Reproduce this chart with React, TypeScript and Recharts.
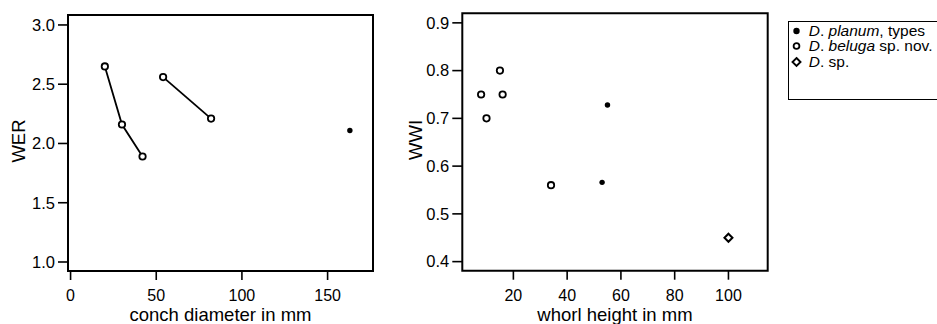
import React from 'react';
import {
  Legend,
  ReferenceArea,
  Scatter,
  ScatterChart,
  XAxis,
  YAxis,
} from 'recharts';

// left panel: WER vs conch diameter
const werBelugaA = [
  { x: 20, y: 2.65 },
  { x: 30, y: 2.16 },
  { x: 42, y: 1.89 },
];
const werBelugaB = [
  { x: 54, y: 2.56 },
  { x: 82, y: 2.21 },
];
const werPlanum = [{ x: 163, y: 2.11 }];
const werXTicks = [0, 50, 100, 150];
const werYTicks = [1.0, 1.5, 2.0, 2.5, 3.0];

// right panel: WWI vs whorl height
const wwiBeluga = [
  { x: 8, y: 0.75 },
  { x: 10, y: 0.7 },
  { x: 15, y: 0.8 },
  { x: 16, y: 0.75 },
  { x: 34, y: 0.56 },
];
const wwiPlanum = [
  { x: 55, y: 0.728 },
  { x: 53, y: 0.566 },
];
const wwiSp = [{ x: 100, y: 0.45 }];
const wwiXTicks = [20, 40, 60, 80, 100];
const wwiYTicks = [0.4, 0.5, 0.6, 0.7, 0.8, 0.9];

const legendItems = [
  { genus: 'D', species: 'planum', suffix: ', types', mark: 'filled' },
  { genus: 'D', species: 'beluga', suffix: ' sp. nov.', mark: 'open' },
  { genus: 'D', species: '', suffix: ' sp.', mark: 'diamond' },
];

const FONT = '"Liberation Sans", Arial, Helvetica, sans-serif';
const tickStyle = { fill: '#000', fontSize: 16.5, fontFamily: FONT };
const xTickStyle = { fill: '#000', fontSize: 16, fontFamily: FONT };
const tickLineStyle = { stroke: '#000', strokeWidth: 1.6 };

const OpenDot = (p: any) => (
  <circle cx={p.cx} cy={p.cy} r={3.2} fill="#fff" stroke="#000" strokeWidth={1.8} />
);
const FilledDot = (p: any) => <circle cx={p.cx} cy={p.cy} r={2.7} fill="#000" />;
const Diamond = (p: any) => {
  const s = 4;
  return (
    <polygon
      points={`${p.cx},${p.cy - s} ${p.cx + s},${p.cy} ${p.cx},${p.cy + s} ${p.cx - s},${p.cy}`}
      fill="#fff"
      stroke="#000"
      strokeWidth={2}
    />
  );
};

const yTitle = (text: string, x: number) => (props: any) => {
  const vb = props.viewBox || {};
  const cy = (vb.y ?? 0) + (vb.height ?? 0) / 2 - 2;
  return (
    <text
      x={x}
      y={cy}
      transform={`rotate(-90, ${x}, ${cy})`}
      textAnchor="middle"
      fill="#000"
      fontSize={18.5}
      fontFamily={FONT}
    >
      {text}
    </text>
  );
};

const legendMark = (mark: string) => {
  if (mark === 'filled') return <circle cx={5.5} cy={6} r={3.2} fill="#000" />;
  if (mark === 'open')
    return <circle cx={5.5} cy={6} r={2.9} fill="#fff" stroke="#000" strokeWidth={1.8} />;
  return (
    <polygon points="5.5,2 9.5,6 5.5,10 1.5,6" fill="#fff" stroke="#000" strokeWidth={1.9} />
  );
};

const renderLegend = () => (
  <div
    style={{
      border: '1.5px solid #000',
      boxSizing: 'border-box',
      height: 78.5,
      width: 170,
      paddingTop: 1,
      paddingLeft: 2,
      background: '#fff',
      fontFamily: FONT,
      fontSize: 15.5,
      color: '#000',
      textAlign: 'left',
    }}
  >
    {legendItems.map((it) => (
      <div key={it.species + it.suffix} style={{ display: 'flex', alignItems: 'center', height: 15.6, whiteSpace: 'nowrap' }}>
        <svg width={11} height={12} style={{ marginRight: 7, flex: 'none' }}>
          {legendMark(it.mark)}
        </svg>
        <span>
          <i>{it.genus}</i>.{it.species ? ' ' : ''}
          {it.species && <i>{it.species}</i>}
          {it.suffix}
        </span>
      </div>
    ))}
  </div>
);

export default function App() {
  return (
    <div
      style={{
        position: 'absolute',
        left: 0,
        top: 0,
        width: 937,
        height: 324,
        overflow: 'hidden',
        background: '#fff',
        fontFamily: FONT,
      }}
    >
      <div style={{ position: 'absolute', left: 0, top: 0 }}>
        <ScatterChart width={400} height={324} margin={{ top: 15, right: 27, bottom: 0, left: 0 }}>
          <XAxis
            type="number"
            dataKey="x"
            domain={[-1.5, 176.5]}
            allowDataOverflow
            ticks={werXTicks}
            height={53}
            axisLine={false}
            tickLine={tickLineStyle}
            tickSize={9}
            tickMargin={10}
            tick={xTickStyle}
            label={{ value: 'conch diameter in mm', position: 'insideBottom', offset: 3, fill: '#000', fontSize: 18.5, fontFamily: FONT }}
          />
          <YAxis
            type="number"
            dataKey="y"
            domain={[0.924, 3.084]}
            allowDataOverflow
            ticks={werYTicks}
            width={68}
            axisLine={false}
            tickLine={tickLineStyle}
            tickSize={10}
            tickMargin={3}
            tick={tickStyle}
            tickFormatter={(v: number) => v.toFixed(1)}
            label={{ content: yTitle('WER', 25) }}
          />
          <ReferenceArea
            x1={-1.5}
            x2={176.5}
            y1={0.924}
            y2={3.084}
            fill="none"
            stroke="#000"
            strokeWidth={2}
            ifOverflow="visible"
          />
          <Scatter
            name="beluga-a"
            data={werBelugaA}
            line={{ stroke: '#000', strokeWidth: 1.8 }}
            shape={OpenDot}
            isAnimationActive={false}
          />
          <Scatter
            name="beluga-b"
            data={werBelugaB}
            line={{ stroke: '#000', strokeWidth: 1.8 }}
            shape={OpenDot}
            isAnimationActive={false}
          />
          <Scatter name="planum" data={werPlanum} shape={FilledDot} isAnimationActive={false} />
        </ScatterChart>
      </div>

      <div style={{ position: 'absolute', left: 390, top: 0 }}>
        <ScatterChart width={547} height={324} margin={{ top: 13.3, right: 169.3, bottom: 0, left: 0 }}>
          <XAxis
            type="number"
            dataKey="x"
            domain={[1.0, 114.6]}
            allowDataOverflow
            ticks={wwiXTicks}
            height={53.3}
            axisLine={false}
            tickLine={tickLineStyle}
            tickSize={9}
            tickMargin={10}
            tick={xTickStyle}
            label={{ value: 'whorl height in mm', position: 'insideBottom', offset: 3, fill: '#000', fontSize: 18.5, fontFamily: FONT }}
          />
          <YAxis
            type="number"
            dataKey="y"
            domain={[0.381, 0.92]}
            allowDataOverflow
            ticks={wwiYTicks}
            width={72.3}
            axisLine={false}
            tickLine={tickLineStyle}
            tickSize={10}
            tickMargin={3}
            tick={tickStyle}
            tickFormatter={(v: number) => v.toFixed(1)}
            label={{ content: yTitle('WWI', 31.7) }}
          />
          <ReferenceArea
            x1={1.0}
            x2={114.6}
            y1={0.381}
            y2={0.92}
            fill="none"
            stroke="#000"
            strokeWidth={2}
            ifOverflow="visible"
          />
          <Scatter name="D. planum, types" data={wwiPlanum} shape={FilledDot} isAnimationActive={false} />
          <Scatter name="D. beluga sp. nov." data={wwiBeluga} shape={OpenDot} isAnimationActive={false} />
          <Scatter name="D. sp." data={wwiSp} shape={Diamond} isAnimationActive={false} />
          <Legend
            layout="vertical"
            align="center"
            verticalAlign="middle"
            wrapperStyle={{ left: 397.7, top: 21, width: 170 }}
            content={renderLegend}
          />
        </ScatterChart>
      </div>
    </div>
  );
}
